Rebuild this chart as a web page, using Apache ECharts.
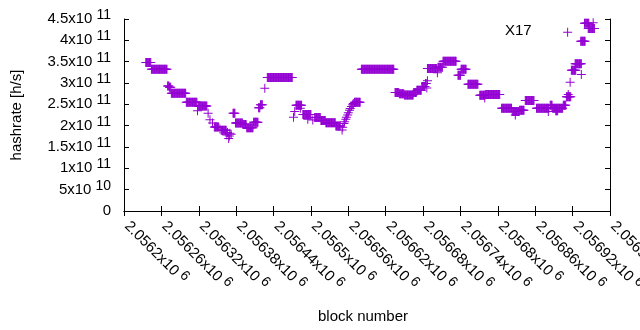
<!DOCTYPE html>
<html>
<head>
<meta charset="utf-8">
<script src="https://cdn.jsdelivr.net/npm/echarts@6/dist/echarts.min.js"></script>
<style>
  html, body { margin: 0; padding: 0; background: #fff; }
  #chart { width: 640px; height: 330px; }
</style>
</head>
<body>
<div id="chart"></div>
<script>
// ---- data (runs of consecutive blocks sharing one hashrate value) ----
const runFirstBlock = [
  2056235, 2056244, 2056270, 2056273, 2056276, 2056300, 2056318, 2056319,
  2056335, 2056338, 2056342, 2056345, 2056354, 2056356, 2056365, 2056366, 2056368, 2056369, 2056370, 2056372,
  2056375, 2056379, 2056391, 2056397, 2056408, 2056416, 2056419, 2056426,
  2056430, 2056472, 2056474, 2056476, 2056483, 2056487, 2056495, 2056503, 2056506, 2056516, 2056524, 2056540, 2056550,
  2056551, 2056553, 2056554, 2056556, 2056557, 2056559, 2056560, 2056562, 2056563, 2056565, 2056567, 2056568,
  2056570, 2056581,
  2056635, 2056642, 2056650, 2056665, 2056670, 2056678, 2056684, 2056686, 2056687,
  2056687, 2056703, 2056704, 2056712, 2056736, 2056741, 2056752, 2056771, 2056779, 2056780,
  2056806, 2056823, 2056828, 2056835, 2056844,
  2056862, 2056881, 2056884, 2056888, 2056893, 2056905,
  2056910, 2056913, 2056912, 2056916, 2056918, 2056924, 2056934, 2056933, 2056939, 2056945, 2056953
];
const runLastBlock = [
  2056243, 2056269, 2056272, 2056275, 2056299, 2056317, 2056318, 2056333,
  2056335, 2056338, 2056342, 2056352, 2056354, 2056364, 2056365, 2056366, 2056368, 2056369, 2056370, 2056372,
  2056378, 2056390, 2056396, 2056407, 2056415, 2056418, 2056422, 2056426,
  2056470, 2056472, 2056474, 2056485, 2056483, 2056500, 2056495, 2056503, 2056515, 2056523, 2056539, 2056547, 2056550,
  2056551, 2056553, 2056554, 2056556, 2056557, 2056559, 2056560, 2056562, 2056563, 2056565, 2056567, 2056568,
  2056579, 2056633,
  2056641, 2056649, 2056664, 2056669, 2056677, 2056683, 2056685, 2056686, 2056687,
  2056702, 2056703, 2056711, 2056733, 2056740, 2056749, 2056768, 2056779, 2056779, 2056803,
  2056822, 2056834, 2056828, 2056842, 2056858,
  2056882, 2056881, 2056887, 2056904, 2056896, 2056909,
  2056917, 2056913, 2056912, 2056916, 2056925, 2056934, 2056934, 2056940, 2056946, 2056955, 2056953
];
const runHashrate = [
  3.48e11, 3.32e11, 2.93e11, 2.90e11, 2.76e11, 2.55e11, 2.35e11, 2.46e11,
  2.29e11, 2.14e11, 2.06e11, 1.97e11, 1.92e11, 1.89e11, 1.78e11, 1.84e11, 1.70e11, 1.76e11, 1.82e11, 1.80e11,
  2.29e11, 2.06e11, 2.03e11, 1.95e11, 2.08e11, 2.42e11, 2.49e11, 2.875e11,
  3.13e11, 2.20e11, 2.33e11, 2.48e11, 2.41e11, 2.26e11, 2.15e11, 2.13e11, 2.19e11, 2.12e11, 2.07e11, 1.99e11, 1.90e11,
  1.96e11, 2.05e11, 2.09e11, 2.15e11, 2.20e11, 2.25e11, 2.30e11, 2.36e11, 2.40e11, 2.45e11, 2.49e11, 2.52e11,
  2.55e11, 3.32e11,
  2.78e11, 2.75e11, 2.72e11, 2.78e11, 2.83e11, 2.92e11, 2.99e11, 2.88e11, 3.05e11,
  3.34e11, 3.24e11, 3.37e11, 3.51e11, 3.18e11, 3.32e11, 2.97e11, 2.71e11, 2.65e11, 2.73e11,
  2.41e11, 2.33e11, 2.25e11, 2.36e11, 2.59e11,
  2.41e11, 2.33e11, 2.48e11, 2.41e11, 2.35e11, 2.48e11,
  2.68e11, 2.73e11, 4.19e11, 3.02e11, 3.30e11, 3.45e11, 3.20e11, 3.98e11, 4.40e11, 4.28e11, 4.41e11
];
const seriesName = 'X17';
const xTickLabels = ['2.0562', '2.05626', '2.05632', '2.05638', '2.05644', '2.0565', '2.05656',
                     '2.05662', '2.05668', '2.05674', '2.0568', '2.05686', '2.05692', '2.05698'];
const xTickExponent = '6';
const yTickLabels = ['0', '5x10', '1x10', '1.5x10', '2x10', '2.5x10', '3x10', '3.5x10', '4x10', '4.5x10'];
const yTickExponents = ['', '10', '11', '11', '11', '11', '11', '11', '11', '11'];
const xAxisTitle = 'block number';
const yAxisTitle = 'hashrate [h/s]';

// ---- build points ----
const points = [];
for (let i = 0; i < runFirstBlock.length; i++) {
  for (let b = runFirstBlock[i]; b <= runLastBlock[i]; b++) points.push([b, runHashrate[i]]);
}

const FONT = 'Liberation Sans, Arial, sans-serif';
const rich = {
  m: { fontSize: 15, fontFamily: FONT, color: '#000' },
  e: { fontSize: 14, fontFamily: FONT, color: '#000', padding: [0, 0, 8, 4] }
};
const plusPath = 'path://M4,0H5V4H9V5H5V9H4V5H0V4H4Z';

const chart = echarts.init(document.getElementById('chart'), null, { renderer: 'canvas' });
chart.setOption({
  animation: false,
  backgroundColor: '#fff',
  grid: { left: 124, right: 30, top: 19, bottom: 119, containLabel: false, outerBoundsMode: 'none' },
  legend: {
    data: [{ name: seriesName, icon: 'none' }],
    left: 500, top: 23, padding: 0, itemWidth: 0, itemGap: 0,
    textStyle: { fontSize: 15, fontFamily: FONT, color: '#000' }
  },
  xAxis: [{
    type: 'value', min: 2056200, max: 2056980, interval: 60, position: 'bottom',
    name: xAxisTitle, nameLocation: 'middle', nameGap: 98,
    nameTextStyle: { fontSize: 15, fontFamily: FONT, color: '#000', padding: [0, 8, 0, 0] },
    axisLine: { show: true, lineStyle: { color: '#000', width: 1 } },
    axisTick: { show: true, inside: true, length: 5, lineStyle: { color: '#000' } },
    splitLine: { show: false },
    axisLabel: {
      rotate: -45, margin: 10, padding: [0, 0, 0, 4],
      formatter: (v, i) => '{m|' + xTickLabels[i] + 'x10}{e|' + xTickExponent + '}',
      rich: rich
    }
  }, {
    type: 'value', min: 2056200, max: 2056980, interval: 60, position: 'top',
    axisLine: { show: true, lineStyle: { color: '#000', width: 1 } },
    axisTick: { show: true, inside: true, length: 5, lineStyle: { color: '#000' } },
    axisLabel: { show: false }, splitLine: { show: false }
  }],
  yAxis: [{
    type: 'value', min: 0, max: 4.5e11, interval: 0.5e11, position: 'left',
    name: yAxisTitle, nameLocation: 'middle', nameGap: 100, nameRotate: 90,
    nameTextStyle: { fontSize: 15, fontFamily: FONT, color: '#000' },
    axisLine: { show: true, lineStyle: { color: '#000', width: 1 } },
    axisTick: { show: true, inside: true, length: 5, lineStyle: { color: '#000' } },
    splitLine: { show: false },
    axisLabel: {
      margin: 13,
      formatter: (v, i) => yTickExponents[i] ? '{m|' + yTickLabels[i] + '}{e|' + yTickExponents[i] + '}' : '{m|' + yTickLabels[i] + '}',
      rich: rich
    }
  }, {
    type: 'value', min: 0, max: 4.5e11, interval: 0.5e11, position: 'right',
    axisLine: { show: true, lineStyle: { color: '#000', width: 1 } },
    axisTick: { show: true, inside: true, length: 5, lineStyle: { color: '#000' } },
    axisLabel: { show: false }, splitLine: { show: false }
  }],
  series: [{
    name: seriesName,
    type: 'scatter',
    xAxisIndex: 0, yAxisIndex: 0,
    symbol: plusPath,
    symbolSize: 9,
    itemStyle: { color: '#9400d3', opacity: 1 },
    data: points
  }]
});
</script>
</body>
</html>
